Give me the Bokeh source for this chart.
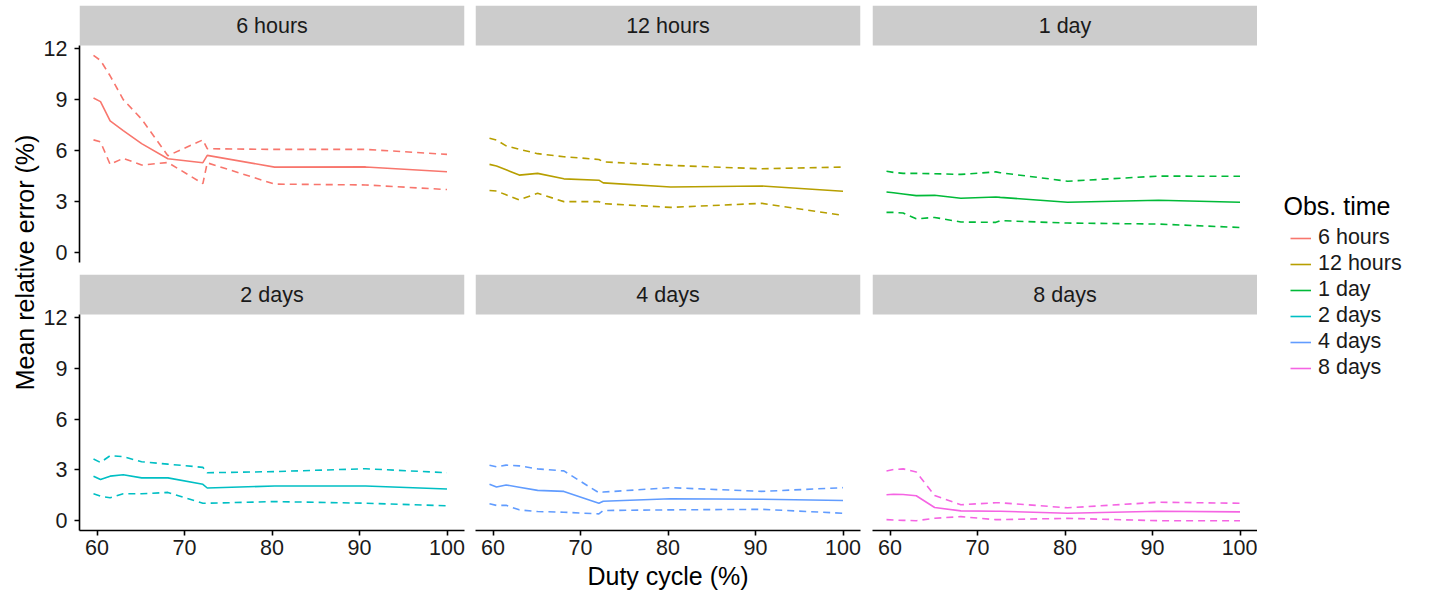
import math
from bokeh.plotting import figure
from bokeh.models import Range1d, FixedTicker, BoxAnnotation, Label, Legend, LegendItem
from bokeh.layouts import row, column
from bokeh.embed import file_html
from bokeh.resources import INLINE

# ---------------- data ----------------
duty_cycle = [59.6, 60.4, 61.5, 63.0, 65.1, 68.1, 72.1, 72.6, 80.3, 90.7, 100.0]
obs_times = ["6 hours", "12 hours", "1 day", "2 days", "4 days", "8 days"]
colors = ["#F8766D", "#B79F00", "#00BA38", "#00BFC4", "#619CFF", "#F564E3"]

mean_6h = [9.09, 8.88, 7.75, 7.18, 6.41, 5.52, 5.29, 5.72, 5.03, 5.04, 4.76]
upper_6h = [11.6, 11.3, 10.4, 9.0, 7.85, 5.7, 6.63, 6.11, 6.07, 6.07, 5.78]
lower_6h = [6.63, 6.51, 5.19, 5.55, 5.15, 5.3, 4.06, 5.28, 4.03, 3.98, 3.71]

mean_12h = [5.19, 5.09, 4.87, 4.56, 4.66, 4.34, 4.26, 4.10, 3.86, 3.92, 3.61]
upper_12h = [6.73, 6.62, 6.28, 6.08, 5.82, 5.64, 5.48, 5.34, 5.13, 4.93, 5.03]
lower_12h = [3.65, 3.62, 3.40, 3.10, 3.49, 3.00, 3.00, 2.88, 2.66, 2.90, 2.19]

mean_1d = [3.57, 3.52, 3.45, 3.35, 3.37, 3.20, 3.27, 3.25, 2.96, 3.08, 2.96]
upper_1d = [4.79, 4.72, 4.66, 4.66, 4.64, 4.60, 4.75, 4.70, 4.20, 4.50, 4.49]
lower_1d = [2.37, 2.37, 2.33, 1.99, 2.07, 1.80, 1.78, 1.88, 1.74, 1.68, 1.48]

mean_2d = [2.63, 2.43, 2.63, 2.71, 2.53, 2.53, 2.15, 1.93, 2.05, 2.05, 1.87]
upper_2d = [3.64, 3.44, 3.84, 3.78, 3.48, 3.34, 3.15, 2.83, 2.90, 3.07, 2.83]
lower_2d = [1.59, 1.45, 1.35, 1.59, 1.59, 1.67, 1.03, 1.03, 1.13, 1.03, 0.88]

mean_4d = [2.15, 1.99, 2.11, 1.98, 1.79, 1.73, 1.03, 1.15, 1.30, 1.27, 1.19]
upper_4d = [3.28, 3.18, 3.28, 3.24, 3.06, 2.94, 1.65, 1.69, 1.95, 1.73, 1.95]
lower_4d = [1.00, 0.90, 0.91, 0.64, 0.54, 0.50, 0.40, 0.60, 0.64, 0.67, 0.44]

mean_8d = [1.53, 1.56, 1.55, 1.47, 0.78, 0.58, 0.56, 0.56, 0.44, 0.56, 0.52]
upper_8d = [2.94, 3.02, 3.06, 2.88, 1.49, 0.94, 1.06, 1.06, 0.76, 1.09, 1.03]
lower_8d = [0.06, 0.04, 0.02, 0.00, 0.14, 0.24, 0.06, 0.06, 0.14, 0.00, 0.00]

means = [mean_6h, mean_12h, mean_1d, mean_2d, mean_4d, mean_8d]
uppers = [upper_6h, upper_12h, upper_1d, upper_2d, upper_4d, upper_8d]
lowers = [lower_6h, lower_12h, lower_1d, lower_2d, lower_4d, lower_8d]

x_ticks = [60, 70, 80, 90, 100]
y_ticks = [0, 3, 6, 9, 12]

# ---------------- style ----------------
FONT = "Liberation Sans"
SMALL = "21.5px"
BIG = "25px"
XLO, XHI = 58.0, 102.0
YLO, YHI = -0.58, 12.18
STRIP_PX = 40
FRAME_W = 385
TOTAL_H = 600
LW = 1.6


def style_axis(ax, ticks, standoff):
    ax.ticker = FixedTicker(ticks=ticks)
    ax.axis_line_width = LW
    ax.axis_line_color = "black"
    ax.major_tick_line_width = LW
    ax.major_tick_line_color = "black"
    ax.major_tick_out = 5
    ax.major_tick_in = 0
    ax.minor_tick_line_color = None
    ax.major_label_text_font = FONT
    ax.major_label_text_font_size = SMALL
    ax.major_label_text_color = "#1a1a1a"
    ax.major_label_standoff = standoff


def make_panel(i, left_axis, bottom_axis, top_row, right_gap):
    fh = 257 if top_row else 256
    strip = (YHI - YLO) * STRIP_PX / (fh - STRIP_PX)
    p = figure(frame_width=FRAME_W, frame_height=fh,
               x_range=Range1d(XLO, XHI), y_range=Range1d(YLO, YHI + strip),
               x_axis_location="below" if bottom_axis else None,
               y_axis_location="left" if left_axis else None,
               output_backend="svg", toolbar_location=None, min_border=0)
    p.min_border_left = 39 if left_axis else 0
    p.min_border_right = right_gap
    p.min_border_top = 5 if top_row else 0
    p.min_border_bottom = 12 if top_row else TOTAL_H - 274 - fh
    p.outline_line_color = None
    p.xgrid.visible = False
    p.ygrid.visible = False
    p.background_fill_color = "white"
    p.border_fill_color = "white"

    if bottom_axis:
        for ax in p.xaxis:
            style_axis(ax, x_ticks, 4)
    if left_axis:
        for ax in p.yaxis:
            style_axis(ax, y_ticks, 7)
            ax.bounds = (YLO, YHI)

    # facet strip
    p.add_layout(BoxAnnotation(bottom=YHI, fill_color="#CCCCCC", fill_alpha=1.0,
                               line_color=None, level="underlay"))
    p.add_layout(Label(x=(XLO + XHI) / 2, y=YHI + strip / 2, text=obs_times[i],
                       text_align="center", text_baseline="middle",
                       text_font=FONT, text_font_size=SMALL, text_color="#1a1a1a"))

    c = colors[i]
    p.line(duty_cycle, means[i], line_color=c, line_width=LW)
    p.line(duty_cycle, uppers[i], line_color=c, line_width=LW, line_dash="7 5")
    p.line(duty_cycle, lowers[i], line_color=c, line_width=LW, line_dash="7 5")
    return p


p1 = make_panel(0, True, False, True, 11)
p2 = make_panel(1, False, False, True, 12)
p3 = make_panel(2, False, False, True, 0)
p4 = make_panel(3, True, True, False, 11)
p5 = make_panel(4, False, True, False, 12)
p6 = make_panel(5, False, True, False, 0)

p5.xaxis.axis_label = "Duty cycle (%)"
p5.xaxis.axis_label_text_font = FONT
p5.xaxis.axis_label_text_font_size = BIG
p5.xaxis.axis_label_text_font_style = "normal"
p5.xaxis.axis_label_text_color = "black"
p5.xaxis.axis_label_standoff = 4

# y-axis title column
YW = 40
yfig = figure(width=YW, height=TOTAL_H, x_range=Range1d(0, YW), y_range=Range1d(0, TOTAL_H),
              x_axis_location=None, y_axis_location=None, output_backend="svg",
              toolbar_location=None, min_border=0)
yfig.outline_line_color = None
yfig.xgrid.visible = False
yfig.ygrid.visible = False
yfig.add_layout(Label(x=24, y=TOTAL_H - 262, text="Mean relative error (%)", angle=math.pi / 2,
                      text_align="center", text_baseline="middle",
                      text_font=FONT, text_font_size=BIG, text_color="black"))

# legend column
LW_FIG = 1436 - 1257 - 1
leg = figure(width=LW_FIG, height=TOTAL_H, x_range=Range1d(0, LW_FIG), y_range=Range1d(0, TOTAL_H),
             x_axis_location=None, y_axis_location=None, output_backend="svg",
             toolbar_location=None, min_border=0)
leg.extra_y_ranges = {"hidden": Range1d(1000, 2000)}
leg.outline_line_color = None
leg.xgrid.visible = False
leg.ygrid.visible = False
items = []
for name, c, m in zip(obs_times, colors, means):
    # drawn outside the visible range: only the legend sample shows
    r = leg.line(x=duty_cycle, y=m, line_color=c, line_width=LW, y_range_name="hidden")
    items.append(LegendItem(label=name, renderers=[r]))
legend = Legend(items=items, location=(33, TOTAL_H - 380), padding=0, margin=0,
                spacing=1, label_height=20, glyph_height=20, glyph_width=21,
                label_standoff=7, border_line_color=None, background_fill_alpha=0,
                label_text_font=FONT, label_text_font_size=SMALL, label_text_color="#1a1a1a")
leg.add_layout(legend)
leg.add_layout(Label(x=26, y=TOTAL_H - 205, text="Obs. time", text_align="left",
                     text_baseline="alphabetic", text_font=FONT, text_font_size=BIG,
                     text_color="black"))

grid = column(row(p1, p2, p3), row(p4, p5, p6))
layout = row(yfig, grid, leg)

open("out.html", "w").write(file_html(layout, INLINE))
